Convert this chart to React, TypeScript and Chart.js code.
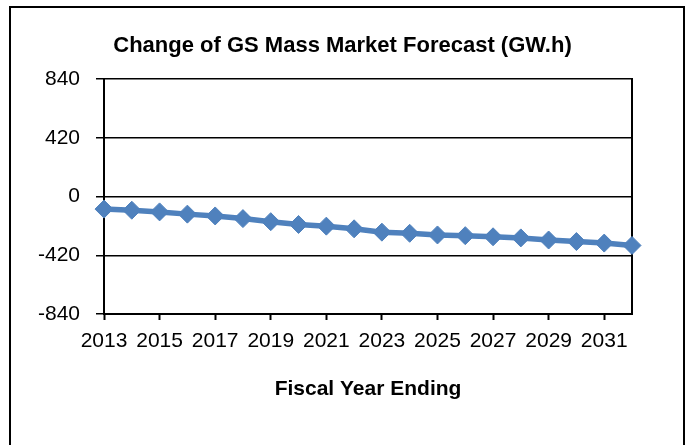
import React, { useEffect, useRef } from "react";
import { Chart, registerables } from "chart.js";

Chart.register(...registerables);

const years = ["2013", "2014", "2015", "2016", "2017", "2018", "2019", "2020", "2021", "2022", "2023", "2024", "2025", "2026", "2027", "2028", "2029", "2030", "2031", "2032"];
const changeValues = [-90, -98, -110, -126, -139, -158, -180, -200, -212, -231, -255, -263, -275, -280, -288, -296, -311, -322, -333, -350];
const yTicks = [-840, -420, 0, 420, 840];
const chartTitle = "Change of GS Mass Market Forecast (GW.h)";
const xTitle = "Fiscal Year Ending";

const FONT = "'Liberation Sans', Arial, sans-serif";

export default function App() {
  const ref = useRef<HTMLCanvasElement>(null);
  useEffect(() => {
    if (!ref.current) return;
    const chart = new Chart(ref.current, {
      type: "line",
      data: {
        labels: years,
        datasets: [
          {
            data: changeValues,
            borderColor: "#4F81BD",
            backgroundColor: "#4F81BD",
            borderWidth: 5.5,
            pointStyle: "rectRot",
            pointRadius: 9,
            pointBorderWidth: 1,
            pointBackgroundColor: "#4F81BD",
            pointBorderColor: "#4F81BD",
            tension: 0,
            clip: false as any,
          },
        ],
      },
      options: {
        responsive: false,
        animation: false,
        layout: { padding: 0 },
        plugins: {
          legend: { display: false },
          tooltip: { enabled: false },
          title: {
            display: true,
            text: chartTitle,
            color: "#000",
            font: { family: FONT, size: 22, weight: "bold" },
            padding: { top: 32.5, bottom: 20.1 },
          },
        },
        scales: {
          x: {
            type: "category",
            offset: false,
            afterFit: (scale: any) => {
              scale.height = 131;
            },
            grid: {
              drawOnChartArea: false,
              tickLength: 6,
              tickWidth: 2,
              tickColor: (ctx: any) => (ctx.index % 2 === 0 ? "#000" : "rgba(0,0,0,0)"),
            },
            border: { display: true, color: "#000", width: 2 },
            ticks: {
              autoSkip: false,
              maxRotation: 0,
              minRotation: 0,
              padding: 9,
              color: "#000",
              font: { family: FONT, size: 21 },
              callback: (_v: any, i: number) => (i % 2 === 0 ? years[i] : ""),
            },
            title: {
              display: true,
              text: xTitle,
              color: "#000",
              font: { family: FONT, size: 21, weight: "bold" },
              padding: { top: 10, bottom: 43 },
            },
          },
          y: {
            min: yTicks[0],
            max: yTicks[yTicks.length - 1],
            afterBuildTicks: (scale: any) => {
              scale.ticks = yTicks.map((v) => ({ value: v }));
            },
            afterFit: (scale: any) => {
              scale.width = 104;
            },
            grid: {
              color: "#000",
              lineWidth: 1.5,
              tickLength: 8,
              tickWidth: 1.5,
              tickColor: "#000",
            },
            border: { display: true, color: "#000", width: 2 },
            ticks: {
              padding: 16,
              color: "#000",
              font: { family: FONT, size: 21 },
              callback: (v: any) => String(v),
            },
          },
          yRight: {
            position: "right",
            min: yTicks[0],
            max: yTicks[yTicks.length - 1],
            afterFit: (scale: any) => {
              scale.width = 53;
            },
            grid: { display: false, drawTicks: false },
            border: { display: true, color: "#000", width: 2 },
            ticks: { display: false },
          },
        },
      },
    });
    return () => chart.destroy();
  }, []);

  return (
    <div style={{ position: "fixed", left: 0, top: 0, width: 685, height: 445, background: "#fff", overflow: "hidden" }}>
      <canvas ref={ref} width={685} height={445} style={{ position: "absolute", left: 0, top: 0 }} />
      <div
        style={{
          position: "absolute",
          left: 9,
          top: 6,
          width: 672,
          height: 460,
          border: "2px solid #000",
          pointerEvents: "none",
        }}
      />
    </div>
  );
}
